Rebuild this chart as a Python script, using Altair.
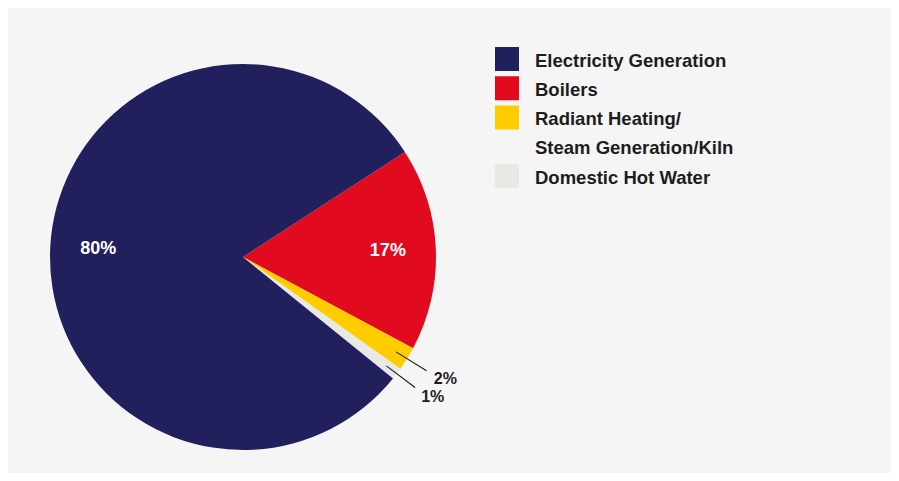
import math
import altair as alt
import pandas as pd

# ---- data (pie order, clockwise from the Boilers edge) ----
categories = ["Boilers", "Radiant Heating/Steam Generation/Kiln", "Domestic Hot Water", "Electricity Generation"]
shares = [17, 2, 1, 80]
pct_labels = ["17%", "2%", "1%", "80%"]

# ---- legend ----
legend_order = ["Electricity Generation", "Boilers", "Radiant Heating/Steam Generation/Kiln", "Domestic Hot Water"]
legend_lines = [["Electricity Generation"], ["Boilers"], ["Radiant Heating/", "Steam Generation/Kiln"], ["Domestic Hot Water"]]
colors = ["#211f5c", "#e10a1e", "#ffcc00", "#e8e8e4"]

START = math.radians(57)
CX, CY = 235, 249
R = 193
FONT = "Liberation Sans"

pie_df = pd.DataFrame({
    "category": categories,
    "share": shares,
    "label": pct_labels,
    "order": list(range(len(categories))),
})

rows = []
ln = 0
for cat, lines in zip(legend_order, legend_lines):
    for j, t in enumerate(lines):
        rows.append({"category": cat, "text": t, "line": ln, "first": j == 0})
        ln += 1
legend_df = pd.DataFrame(rows)

color_scale = alt.Scale(domain=legend_order, range=colors)
theta = alt.Theta("share:Q", stack=True, scale=alt.Scale(range=[START, START + 2 * math.pi]))
order = alt.Order("order:Q", sort="ascending")

base = alt.Chart(pie_df)

slices = base.mark_arc(radius=R, strokeWidth=0).encode(
    theta=theta,
    order=order,
    color=alt.Color("category:N", scale=color_scale, legend=None),
    x=alt.value(CX), y=alt.value(CY),
)

inside = base.transform_calculate(
    t="datum.share >= 5 ? datum.label : ''"
).mark_text(radius=145, font=FONT, fontSize=18, fontWeight="bold", color="white",
            align="center", baseline="middle").encode(
    theta=theta, order=order, detail="category:N", text="t:N",
    x=alt.value(CX), y=alt.value(CY),
)

outside = base.transform_calculate(
    t="datum.share < 5 ? datum.label : ''"
).mark_text(radius=237, font=FONT, fontSize=16, fontWeight="bold", color="#1d1d1b",
            align="center", baseline="middle", dy=-3, dx=1).encode(
    theta=theta, order=order, detail="category:N", text="t:N",
    x=alt.value(CX), y=alt.value(CY),
)

leaders = base.transform_window(
    cum="sum(share)", sort=[alt.SortField("order")], frame=[None, 0]
).transform_joinaggregate(
    total="sum(share)"
).transform_calculate(
    mid=f"{START} + 2*PI*(datum.cum - datum.share/2)/datum.total"
).transform_filter(
    "datum.share < 5"
).transform_calculate(
    a0="datum.mid - 0.003", a1="datum.mid + 0.003"
).mark_arc(radius=216, radius2=180, color="#222222", strokeWidth=0).encode(
    theta=alt.Theta("a0:Q", scale=None), theta2="a1:Q",
    x=alt.value(CX), y=alt.value(CY),
)

yscale = alt.Scale(domain=[0, 4], range=[51, 168])
leg = alt.Chart(legend_df)
leg_sq = leg.transform_filter("datum.first").mark_square(size=576, opacity=1, strokeWidth=0).encode(
    x=alt.value(499),
    y=alt.Y("line:Q", scale=yscale, axis=None),
    color=alt.Color("category:N", scale=color_scale, legend=None),
)
leg_txt = leg.mark_text(align="left", baseline="middle", font=FONT, fontSize=18.5,
                        fontWeight="bold", color="#1d1d1b", dy=1.5).encode(
    x=alt.value(527),
    y=alt.Y("line:Q", scale=yscale, axis=None),
    text="text:N",
)

chart = alt.layer(slices, leaders, inside, outside, leg_sq, leg_txt).resolve_scale(
    theta="independent"
).properties(
    width=883, height=465, padding=0, autosize=alt.AutoSizeParams(type="none"),
    background="#f5f5f5",
).configure_view(stroke=None)

chart.save("out.html", embed_options={"renderer": "svg", "actions": False})
